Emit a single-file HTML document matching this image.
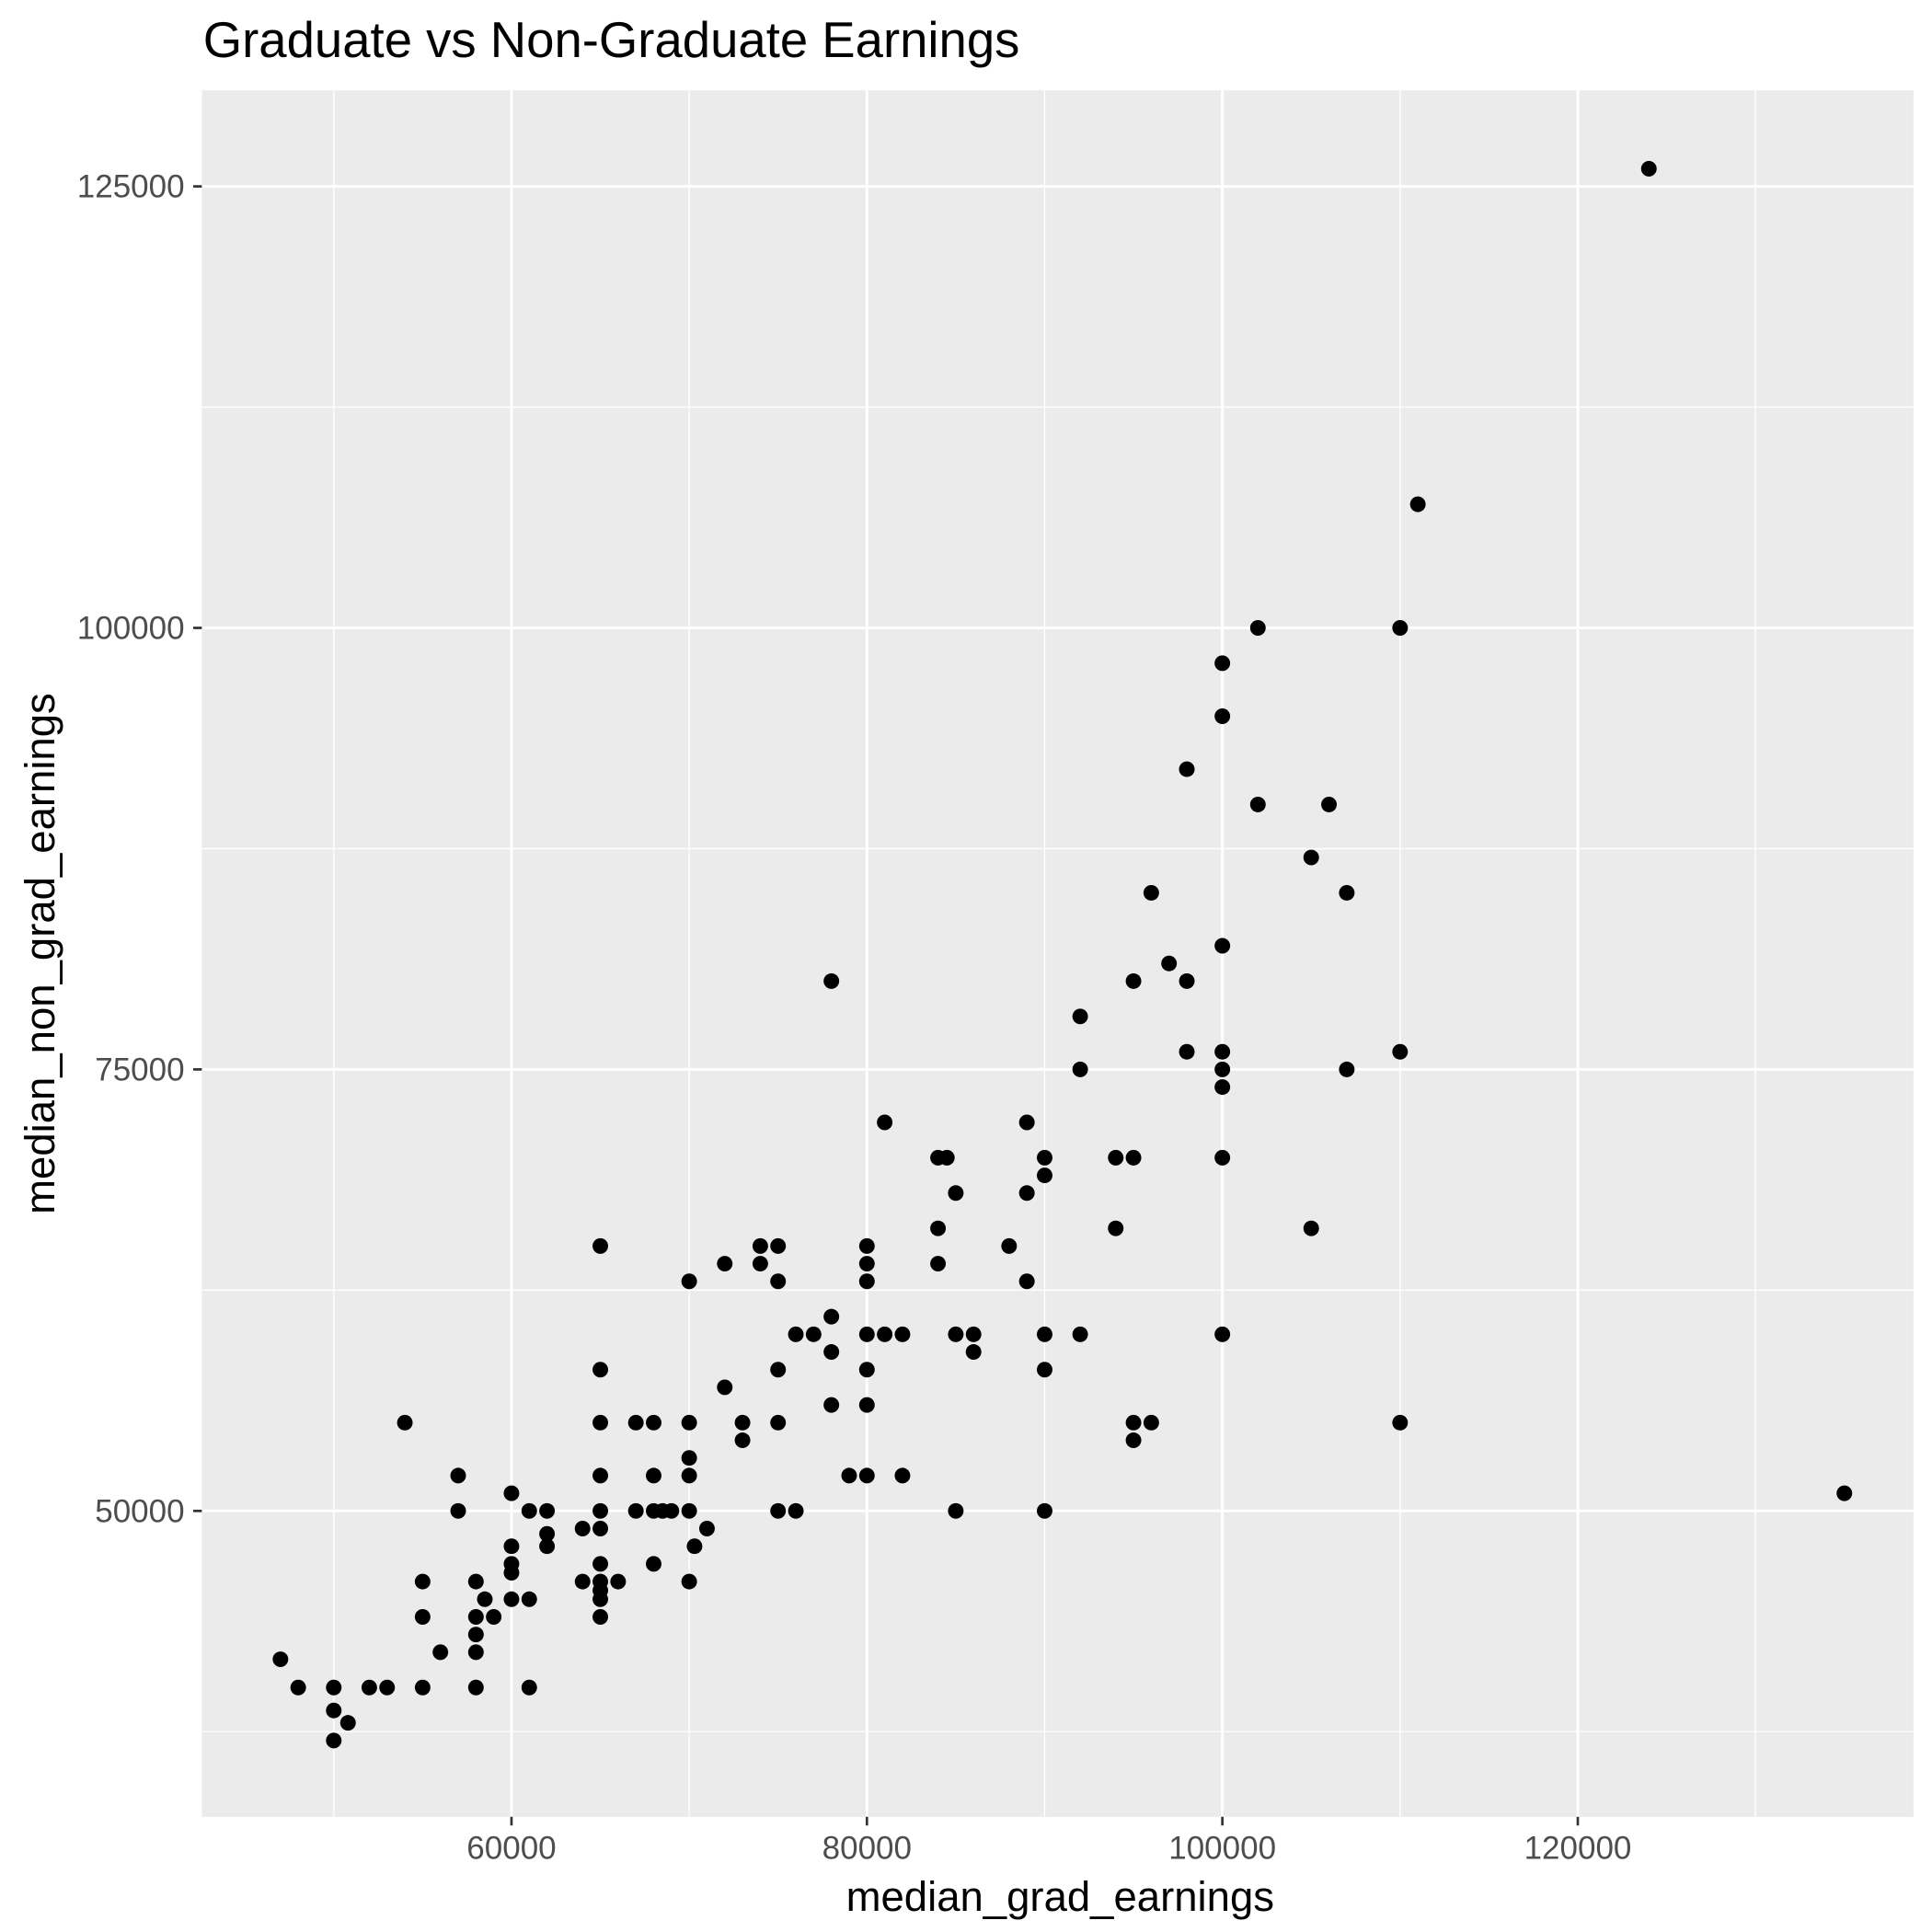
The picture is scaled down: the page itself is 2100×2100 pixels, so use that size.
<!DOCTYPE html>
<html><head><meta charset="utf-8"><style>html,body{margin:0;padding:0;background:#fff}svg{display:block}</style></head>
<body>
<svg id="chart" width="2100" height="2100" viewBox="0 0 1560 1560" xmlns="http://www.w3.org/2000/svg" font-family="'Liberation Sans', sans-serif">
<rect width="1560" height="1560" fill="#fff"/>
<text x="164" y="46" font-size="40.5" fill="#000">Graduate vs Non-Graduate Earnings</text>
<rect x="163" y="73" width="1382" height="1394" fill="#ebebeb"/>
<g id="grid"></g>
<g id="points"></g>
<g id="axes"></g>
<text x="856" y="1543" font-size="33.8" text-anchor="middle" fill="#000">median_grad_earnings</text>
<text transform="translate(44,770) rotate(-90)" font-size="33.8" text-anchor="middle" fill="#000">median_non_grad_earnings</text>
</svg>
<script>
const xTicks = [60000, 80000, 100000, 120000];
const xMinor = [50000, 70000, 90000, 110000, 130000];
const yTicks = [50000, 75000, 100000, 125000];
const yMinor = [37500, 62500, 87500, 112500];
const gradX = [124000,111000,102000,110000,100000,100000,98000,102000,106000,105000,96000,107000,100000,97000,78000,95000,98000,92000,100000,98000,110000,92000,100000,107000,100000,81000,89000,84000,84500,90000,94000,95000,100000,90000,85000,89000,84000,94000,105000,65000,74000,75000,80000,88000,72000,74000,80000,84000,70000,75000,80000,89000,78000,76000,77000,80000,81000,82000,85000,86000,90000,92000,100000,78000,86000,75000,80000,90000,65000,72000,78000,80000,54000,65000,67000,68000,70000,73000,75000,95000,96000,110000,73000,95000,70000,57000,65000,68000,70000,79000,80000,82000,60000,135000,57000,61000,62000,65000,67000,68000,69000,68500,70000,75000,76000,85000,90000,64000,65000,71000,62000,62000,60000,70300,65000,68000,60000,60000,55000,58000,64000,65000,66000,70000,65000,58500,60000,61000,65000,55000,58000,59000,65000,58000,58000,56000,47000,48000,50000,52000,53000,55000,58000,61000,50000,50800,50000];
const nonGradY = [126000,107000,100000,100000,98000,95000,92000,90000,90000,87000,85000,85000,82000,81000,80000,80000,80000,78000,76000,76000,76000,75000,75000,75000,74000,72000,72000,70000,70000,70000,70000,70000,70000,69000,68000,68000,66000,66000,66000,65000,65000,65000,65000,65000,64000,64000,64000,64000,63000,63000,63000,63000,61000,60000,60000,60000,60000,60000,60000,60000,60000,60000,60000,59000,59000,58000,58000,58000,58000,57000,56000,56000,55000,55000,55000,55000,55000,55000,55000,55000,55000,55000,54000,54000,53000,52000,52000,52000,52000,52000,52000,52000,51000,51000,50000,50000,50000,50000,50000,50000,50000,50000,50000,50000,50000,50000,50000,49000,49000,49000,48700,48000,48000,48000,47000,47000,47000,46500,46000,46000,46000,46000,46000,46000,45500,45000,45000,45000,45000,44000,44000,44000,44000,43000,42000,42000,41600,40000,40000,40000,40000,40000,40000,40000,38700,38000,37000];
const NS = 'http://www.w3.org/2000/svg';
const X = v => 413 + (v - 60000) * (287 / 20000);
const Y = v => 1220 - (v - 50000) * (356.5 / 25000);
function mk(tag, attrs, parent) { const e = document.createElementNS(NS, tag); for (const k in attrs) e.setAttribute(k, attrs[k]); parent.appendChild(e); return e; }
const grid = document.getElementById('grid'), pts = document.getElementById('points'), axes = document.getElementById('axes');
xMinor.forEach(v => { const l = mk('line', {x1: X(v), x2: X(v), y1: 73, y2: 1467, stroke: '#fff', 'stroke-width': 1}, grid);

 });
yMinor.forEach(v => { const l = mk('line', {x1: 163, x2: 1545, y1: Y(v), y2: Y(v), stroke: '#fff', 'stroke-width': 1}, grid);

 });
xTicks.forEach(v => {
  const l = mk('line', {x1: X(v), x2: X(v), y1: 73, y2: 1467, stroke: '#fff', 'stroke-width': 2.2}, grid);
  
  
  const t = mk('line', {x1: X(v), x2: X(v), y1: 1467, y2: 1474, stroke: '#333', 'stroke-width': 2}, axes);
  
  
  const s = mk('text', {x: X(v), y: 1501, 'font-size': 26, 'text-anchor': 'middle', fill: '#4d4d4d'}, axes);
  s.textContent = v;
  
  
});
yTicks.forEach(v => {
  const l = mk('line', {x1: 163, x2: 1545, y1: Y(v), y2: Y(v), stroke: '#fff', 'stroke-width': 2.2}, grid);
  
  
  const t = mk('line', {x1: 156, x2: 163, y1: Y(v), y2: Y(v), stroke: '#333', 'stroke-width': 2}, axes);
  
  
  const s = mk('text', {x: 149, y: Y(v) + 9, 'font-size': 26, 'text-anchor': 'end', fill: '#4d4d4d'}, axes);
  s.textContent = v;
  
  
});
gradX.forEach((v, i) => {
  const c = mk('circle', {cx: X(v), cy: Y(nonGradY[i]), r: 6.3, fill: '#000'}, pts);
  
  
});
</script>
</body></html>
